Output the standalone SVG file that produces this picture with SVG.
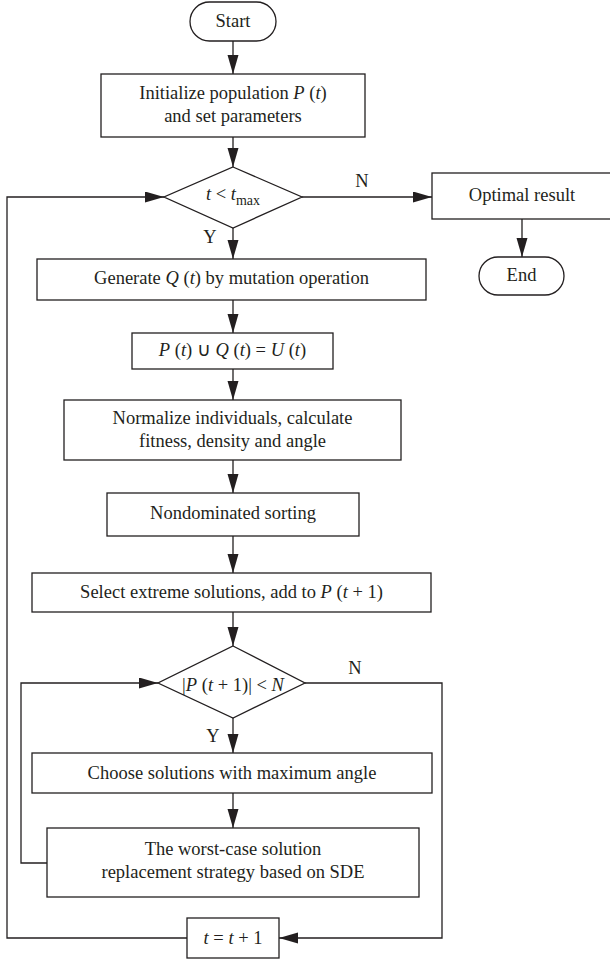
<svg xmlns="http://www.w3.org/2000/svg" width="610" height="960" viewBox="0 0 610 960">
<style>
.s{fill:#fff;stroke:#231f20;stroke-width:1.3}
.c{fill:none;stroke:#231f20;stroke-width:1.3}
text{font-family:"Liberation Serif","Times New Roman",serif;font-size:18.5px;fill:#231f20;text-anchor:middle}
.i{font-style:italic}
.sub{font-size:14px}
</style>
<defs>
<marker id="ah" markerUnits="userSpaceOnUse" markerWidth="20" markerHeight="12" refX="19" refY="5.5" orient="auto">
<path d="M0,0 L19,5.5 L0,11 z" fill="#231f20"/>
</marker>
</defs>
<g id="connectors">
<path class="c" d="M233,41 V74" marker-end="url(#ah)"/>
<path class="c" d="M233,137 V167" marker-end="url(#ah)"/>
<path class="c" d="M302,197 H432" marker-end="url(#ah)"/>
<path class="c" d="M522,219 V257" marker-end="url(#ah)"/>
<path class="c" d="M233,228 V259" marker-end="url(#ah)"/>
<path class="c" d="M233,300 V333" marker-end="url(#ah)"/>
<path class="c" d="M233,369 V400" marker-end="url(#ah)"/>
<path class="c" d="M233,460 V493" marker-end="url(#ah)"/>
<path class="c" d="M233,536 V573" marker-end="url(#ah)"/>
<path class="c" d="M233,612 V646" marker-end="url(#ah)"/>
<path class="c" d="M233,718 V753" marker-end="url(#ah)"/>
<path class="c" d="M233,793 V828" marker-end="url(#ah)"/>
<path class="c" d="M47,863 H21 V683 H158" marker-end="url(#ah)"/>
<path class="c" d="M305,683 H442 V938 H279" marker-end="url(#ah)"/>
<path class="c" d="M187,938 H7 V197 H164" marker-end="url(#ah)"/>
<text x="362" y="187">N</text>
<text x="210" y="243">Y</text>
<text x="355" y="674">N</text>
<text x="213" y="742">Y</text>
</g>
<g id="start">
<rect class="s" x="190" y="2" width="86" height="39" rx="19.5"/>
<text x="233" y="27">Start</text>
</g>
<g id="init">
<rect class="s" x="101" y="74" width="264" height="63"/>
<text x="233" y="99">Initialize population <tspan class="i">P</tspan> (<tspan class="i">t</tspan>)</text>
<text x="233" y="122">and set parameters</text>
</g>
<g id="cond1">
<polygon class="s" points="233,167 302,197 233,228 164,197"/>
<text x="233" y="200"><tspan class="i">t</tspan> &lt; <tspan class="i">t</tspan><tspan class="sub" dy="5">max</tspan></text>
</g>
<g id="optimal">
<rect class="s" x="432" y="173" width="180" height="46"/>
<text x="522" y="201">Optimal result</text>
</g>
<g id="end">
<rect class="s" x="479" y="257" width="85" height="38" rx="19"/>
<text x="521.5" y="281">End</text>
</g>
<g id="generate">
<rect class="s" x="37" y="259" width="389" height="41"/>
<text x="231.5" y="284">Generate <tspan class="i">Q</tspan> (<tspan class="i">t</tspan>) by mutation operation</text>
</g>
<g id="union">
<rect class="s" x="132" y="333" width="201" height="36"/>
<text x="232.5" y="356"><tspan class="i">P</tspan> (<tspan class="i">t</tspan>) ∪ <tspan class="i">Q</tspan> (<tspan class="i">t</tspan>) = <tspan class="i">U</tspan> (<tspan class="i">t</tspan>)</text>
</g>
<g id="normalize">
<rect class="s" x="64" y="400" width="337" height="60"/>
<text x="232.5" y="424">Normalize individuals, calculate</text>
<text x="232.5" y="447">fitness, density and angle</text>
</g>
<g id="nondominated">
<rect class="s" x="107" y="493" width="252" height="43"/>
<text x="233" y="519">Nondominated sorting</text>
</g>
<g id="select">
<rect class="s" x="32" y="573" width="399" height="39"/>
<text x="231.5" y="598">Select extreme solutions, add to <tspan class="i">P</tspan> (<tspan class="i">t</tspan> + 1)</text>
</g>
<g id="cond2">
<polygon class="s" points="233,646 305,683 233,718 158,683"/>
<text x="233" y="691">|<tspan class="i">P</tspan> (<tspan class="i">t</tspan> + 1)| &lt; <tspan class="i">N</tspan></text>
</g>
<g id="choose">
<rect class="s" x="32" y="753" width="400" height="40"/>
<text x="232" y="779">Choose solutions with maximum angle</text>
</g>
<g id="worst">
<rect class="s" x="47" y="828" width="372" height="69"/>
<text x="233" y="855">The worst-case solution</text>
<text x="233" y="878">replacement strategy based on SDE</text>
</g>
<g id="increment">
<rect class="s" x="187" y="918" width="92" height="40"/>
<text x="233" y="944"><tspan class="i">t</tspan> = <tspan class="i">t</tspan> + 1</text>
</g>
</svg>
